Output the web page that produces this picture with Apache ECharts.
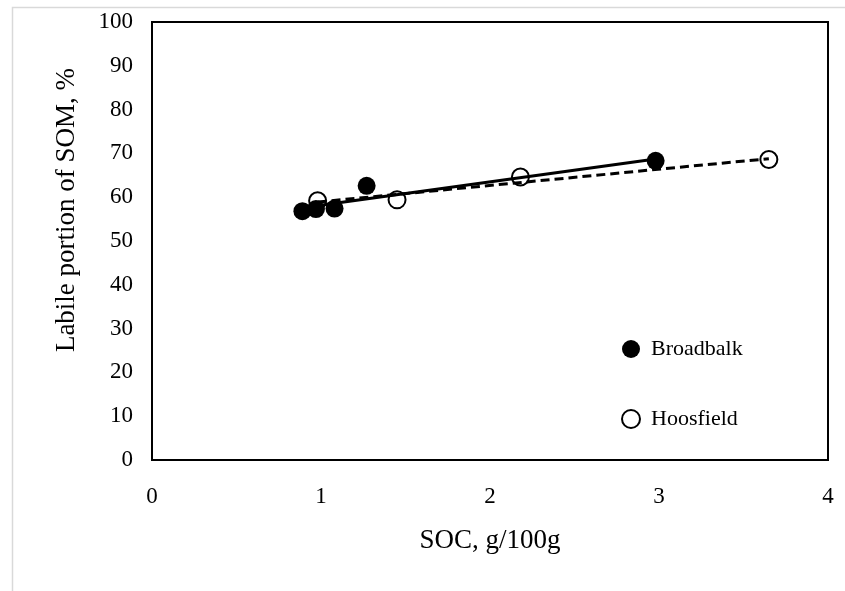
<!DOCTYPE html>
<html><head><meta charset="utf-8">
<script src="https://cdn.jsdelivr.net/npm/echarts@6/dist/echarts.min.js"></script>
<style>html,body{margin:0;padding:0;background:#fff}#c{width:845px;height:591px}</style>
</head><body><div id="c"></div>
<script>
const broadbalkX = [0.89, 0.97, 1.08, 1.27, 2.98];
const broadbalkY = [56.8, 57.3, 57.4, 62.6, 68.3];
const hoosfieldX = [0.98, 1.45, 2.18, 3.65];
const hoosfieldY = [59.2, 59.4, 64.6, 68.6];
const broadbalkTrendX = [0.89, 2.98];
const broadbalkTrendY = [57.6, 68.7];
const hoosfieldTrendX = [0.98, 3.65];
const hoosfieldTrendY = [58.9, 68.8];
const xTicks = [0, 1, 2, 3, 4];
const yTicks = [0, 10, 20, 30, 40, 50, 60, 70, 80, 90, 100];

const zip = (a, b) => a.map((v, i) => [v, b[i]]);
const font = '"Liberation Serif", "Times New Roman", serif';
const chart = echarts.init(document.getElementById('c'), null, {renderer: 'canvas'});
chart.setOption({
  animation: false,
  backgroundColor: '#fff',
  graphic: [{
    type: 'rect', left: 10, top: 5,
    shape: {width: 834, height: 600},
    style: {fill: 'none', stroke: '#d9d9d9', lineWidth: 1.5}, silent: true
  }],
  grid: {left: 152, right: 17, top: 22, bottom: 131, show: true, borderColor: '#000', borderWidth: 2, backgroundColor: 'transparent'},
  legend: {
    orient: 'vertical', left: 616, top: 333, itemGap: 48,
    itemWidth: 18, itemHeight: 18,
    data: ['Broadbalk', 'Hoosfield'],
    textStyle: {fontFamily: font, fontSize: 22, color: '#000', padding: [0, 0, 0, 6]}
  },
  xAxis: {
    type: 'value', min: xTicks[0], max: xTicks[xTicks.length - 1], interval: 1,
    name: 'SOC, g/100g', nameLocation: 'middle', nameGap: 67,
    nameTextStyle: {fontFamily: font, fontSize: 27, color: '#000'},
    axisLine: {show: true, lineStyle: {color: '#000', width: 2}},
    axisTick: {show: false}, splitLine: {show: false},
    axisLabel: {fontFamily: font, fontSize: 23, color: '#000', margin: 25}
  },
  yAxis: {
    type: 'value', min: yTicks[0], max: yTicks[yTicks.length - 1], interval: 10,
    name: 'Labile portion of SOM, %', nameLocation: 'middle', nameGap: 72,
    nameTextStyle: {fontFamily: font, fontSize: 27, color: '#000', padding: [0, 0, 0, 62]},
    axisLine: {show: true, lineStyle: {color: '#000', width: 2}},
    axisTick: {show: false}, splitLine: {show: false},
    axisLabel: {fontFamily: font, fontSize: 23, color: '#000', margin: 19}
  },
  series: [
    {name: 'BroadbalkTrend', type: 'line', data: zip(broadbalkTrendX, broadbalkTrendY), symbol: 'none',
     lineStyle: {color: '#000', width: 3, type: 'solid'}, z: 1},
    {name: 'HoosfieldTrend', type: 'line', data: zip(hoosfieldTrendX, hoosfieldTrendY), symbol: 'none',
     lineStyle: {color: '#000', width: 3, type: [9, 5]}, z: 1},
    {name: 'Broadbalk', type: 'scatter', data: zip(broadbalkX, broadbalkY), symbol: 'circle', symbolSize: 18,
     itemStyle: {color: '#000', borderColor: '#000', borderWidth: 0, opacity: 1}, z: 3},
    {name: 'Hoosfield', type: 'scatter', data: zip(hoosfieldX, hoosfieldY), symbol: 'circle', symbolSize: 17,
     itemStyle: {color: 'rgba(255,255,255,0)', borderColor: '#000', borderWidth: 2, opacity: 1}, z: 4}
  ]
});
</script></body></html>
